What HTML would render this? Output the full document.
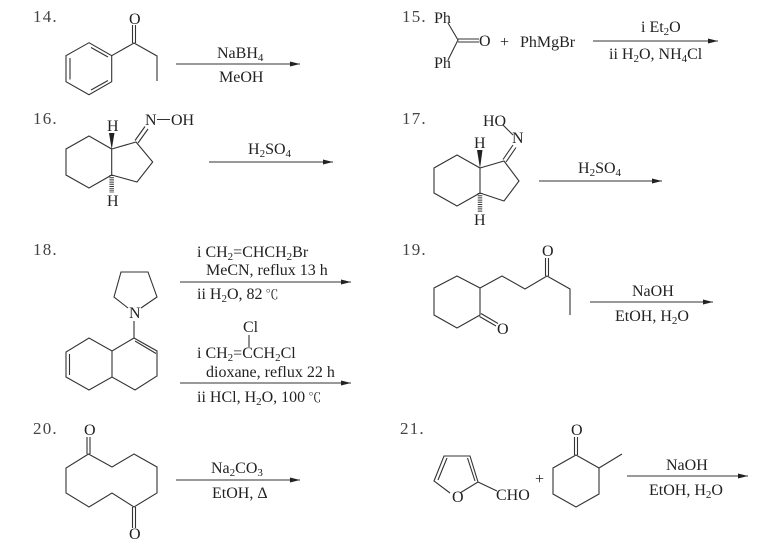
<!DOCTYPE html>
<html><head><meta charset="utf-8"><style>
html,body{margin:0;padding:0;background:#fff}
svg{display:block;filter:blur(0.35px)}
text{font-family:"Liberation Serif","Noto Serif CJK SC",serif;font-size:16px;fill:#222}
.n{font-size:17px;letter-spacing:1.2px;fill:#444}
.b{fill:none;stroke:#333;stroke-width:1.1}
.s{font-size:11px}
.c{font-size:13px}
</style></head><body>
<svg width="760" height="549" viewBox="0 0 760 549" xmlns="http://www.w3.org/2000/svg">
<defs><marker id="a" markerUnits="userSpaceOnUse" markerWidth="10" markerHeight="6" refX="10" refY="2.5" orient="auto"><path d="M0 0L10 2.5L0 5Z" fill="#222"/></marker></defs>

<!-- labels -->
<text class="n" x="33" y="22">14.</text>
<text class="n" x="402" y="22">15.</text>
<text class="n" x="33" y="124">16.</text>
<text class="n" x="402" y="124">17.</text>
<text class="n" x="33" y="255">18.</text>
<text class="n" x="402" y="255">19.</text>
<text class="n" x="33" y="434">20.</text>
<text class="n" x="400" y="434">21.</text>

<!-- arrows -->
<g class="b">
<path d="M176 64H300" marker-end="url(#a)"/>
<path d="M593 41H718" marker-end="url(#a)"/>
<path d="M209 162H333" marker-end="url(#a)"/>
<path d="M539 181H662" marker-end="url(#a)"/>
<path d="M180 282H351" marker-end="url(#a)"/>
<path d="M180 383H351" marker-end="url(#a)"/>
<path d="M590 302H713" marker-end="url(#a)"/>
<path d="M176 480H300" marker-end="url(#a)"/>
<path d="M627 476H748" marker-end="url(#a)"/>
</g>

<!-- 14 -->
<path class="b" d="M89 42.7L111.7 55.7V81.7L89 94.7L66 81.7V55.7ZM111.7 55.7L134 43L157 56V81M132.5 43V25M135.5 43V25M70 58V79.5M91 47.5L108 57M91 90L108 80.5"/>
<text x="129" y="24">O</text>
<text x="217" y="58">NaBH<tspan class="s" dy="3">4</tspan></text>
<text x="219" y="82">MeOH</text>

<!-- 15 -->
<path class="b" d="M448 23L458 40L448 60M458 39H479M458 42H479"/>
<text x="434" y="23">Ph</text>
<text x="434" y="68">Ph</text>
<text x="479" y="46">O</text>
<text x="500" y="47">+</text>
<text x="520" y="47">PhMgBr</text>
<text x="641" y="32">i Et<tspan class="s" dy="3">2</tspan><tspan dy="-3">O</tspan></text>
<text x="609" y="59">ii H<tspan class="s" dy="3">2</tspan><tspan dy="-3">O, NH</tspan><tspan class="s" dy="3">4</tspan><tspan dy="-3">Cl</tspan></text>

<!-- 16 -->
<path class="b" d="M89 136L66 149V175L89 188L111.7 175V149ZM111.7 149L136 142L152.7 162L137 182L111.7 175M135 140.5L145 126.5M138 143L148 129M157 119.5H170"/>
<path d="M111.7 149.5L109 133H114.5Z" fill="#222"/>
<path d="M111.7 175V193" stroke="#333" stroke-width="4.5" stroke-dasharray="1 1.2" fill="none"/>
<text x="107" y="131">H</text>
<text x="107" y="206">H</text>
<text x="145" y="125">N</text>
<text x="171" y="125">OH</text>
<text x="248" y="154">H<tspan class="s" dy="3">2</tspan><tspan dy="-3">SO</tspan><tspan class="s" dy="3">4</tspan></text>

<!-- 17 -->
<path class="b" d="M457 155L434 168V193L457 206L480 193V168ZM480 168L504 161L519 181L504 201L480 193M503 159.5L513 145M506 162L516 147.5M503 125L513 135"/>
<path d="M480 168.5L477 150H482.5Z" fill="#222"/>
<path d="M480 193V212" stroke="#333" stroke-width="4.5" stroke-dasharray="1 1.2" fill="none"/>
<text x="483" y="126">HO</text>
<text x="512" y="143">N</text>
<text x="474" y="148">H</text>
<text x="474" y="225">H</text>
<text x="578" y="173">H<tspan class="s" dy="3">2</tspan><tspan dy="-3">SO</tspan><tspan class="s" dy="3">4</tspan></text>

<!-- 18 -->
<path class="b" d="M128 308L114 297L121 272H148L157 297L141 308M134 321V338L157 351V376L135 390L112 377L89 390L66 377V352L89 338L112 351L134 338M112 351V377M69.5 354V375M135 341L156 353.5"/>
<text x="129" y="318">N</text>
<text x="197" y="257">i CH<tspan class="s" dy="3">2</tspan><tspan dy="-3">=CHCH</tspan><tspan class="s" dy="3">2</tspan><tspan dy="-3">Br</tspan></text>
<text x="206" y="275">MeCN, reflux 13 h</text>
<text x="197" y="299">ii H<tspan class="s" dy="3">2</tspan><tspan dy="-3">O, 82</tspan><tspan class="c" dx="3">℃</tspan></text>
<text x="243" y="332">Cl</text>
<path class="b" d="M249 335V347"/>
<text x="197" y="358">i CH<tspan class="s" dy="3">2</tspan><tspan dy="-3">=CCH</tspan><tspan class="s" dy="3">2</tspan><tspan dy="-3">Cl</tspan></text>
<text x="206" y="377">dioxane, reflux 22 h</text>
<text x="197" y="402">ii HCl, H<tspan class="s" dy="3">2</tspan><tspan dy="-3">O, 100</tspan><tspan class="c" dx="3">℃</tspan></text>

<!-- 19 -->
<path class="b" d="M457 276L434 288V315L457 328L480 315V288ZM480 288L502 276L525 289L547 276L570 289V315M545.5 276V258M548.5 276V258M481 313.5L498 323.5M479.5 316.5L496 326"/>
<text x="542" y="256">O</text>
<text x="497" y="334">O</text>
<text x="632" y="296">NaOH</text>
<text x="615" y="321">EtOH, H<tspan class="s" dy="3">2</tspan><tspan dy="-3">O</tspan></text>

<!-- 20 -->
<path class="b" d="M88.5 454L66 468V493L89 507L112 493L134 507L157 493V467L134 454L112 467ZM87 454V437M90 454V437M132.5 507V528M135.5 507V528"/>
<text x="84" y="435">O</text>
<text x="129" y="539">O</text>
<text x="211" y="473">Na<tspan class="s" dy="3">2</tspan><tspan dy="-3">CO</tspan><tspan class="s" dy="3">3</tspan></text>
<text x="212" y="498">EtOH, Δ</text>

<!-- 21 -->
<path class="b" d="M450 493L434 481L444 456H470L478 482L460 493M478 482L497 491M438 480L447 458M467.5 458L475 481M576 455L553 468V494L576 507L599 494V468ZM599 468L622 454M574.5 455V437M577.5 455V437"/>
<text x="452" y="502">O</text>
<text x="496" y="500">CHO</text>
<text x="535" y="484">+</text>
<text x="571" y="435">O</text>
<text x="666" y="470">NaOH</text>
<text x="649" y="495">EtOH, H<tspan class="s" dy="3">2</tspan><tspan dy="-3">O</tspan></text>
</svg>
</body></html>
